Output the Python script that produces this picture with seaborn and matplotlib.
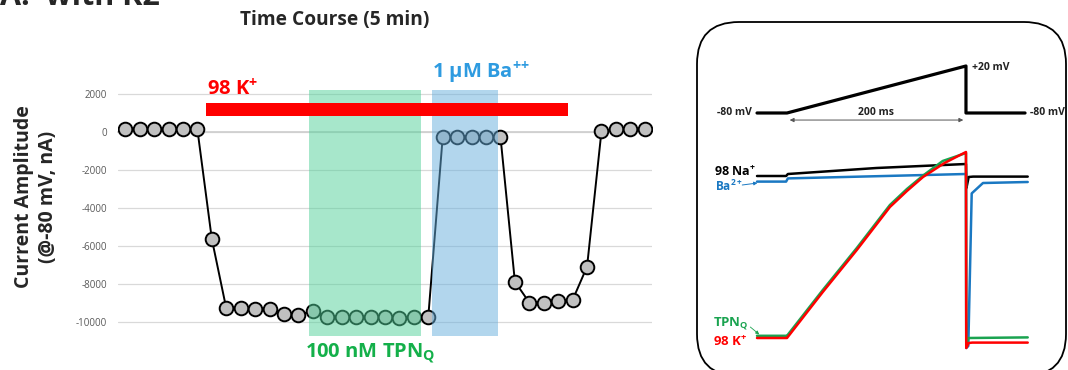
import matplotlib
matplotlib.use("Agg")
import matplotlib.pyplot as plt
import numpy as np
import pandas as pd
import seaborn as sns
from matplotlib.patches import FancyBboxPatch

# time course (one sweep every few seconds over 5 min)
SWEEP = list(range(37))
AMPLITUDE = [
    140, 140, 140, 140, 140, 140,
    -5630, -9280, -9280, -9330, -9300, -9580, -9630, -9420,
    -9750, -9750, -9750, -9750, -9750, -9800, -9720, -9720,
    -245, -245, -245, -245, -245,
    -7880, -8980, -8980, -8880, -8840, -7090,
    50, 160, 160, 160,
]
Y_TICKS = [2000, 0, -2000, -4000, -6000, -8000, -10000]

K_BAR_X = (5.6, 30.7)
K_BAR_Y = (840, 1530)
TPN_SPAN = (12.74, 20.5)
BA_SPAN = (21.24, 25.81)
SPAN_Y = (-10740, 2210)

# voltage ramp protocol
PROTOCOL_T = [-33.5, 0, 200, 200, 266]
PROTOCOL_MV = [-80, -80, 20, -80, -80]

# current traces (arbitrary units)
NA_T = [-33.5, -1, 1, 100, 200, 200.5, 203, 208, 269]
NA_I = [0.2, 0.2, 0.3, 0.6, 0.8, -0.4, 0.15, 0.17, 0.17]
BA_T = [-33.5, -1, 1, 200, 200.3, 202.6, 206.4, 219, 269]
BA_I = [-0.08, -0.08, 0.08, 0.3, -8.4, -8.3, -0.67, -0.15, -0.1]
TPN_T = [-33.5, -1, 0, 40, 78, 115, 134, 152, 174, 200, 200.3, 203, 269]
TPN_I = [-7.79, -7.79, -7.79, -5.5, -3.4, -1.25, -0.45, 0.22, 0.95, 1.35, -8.2, -7.9, -7.87]
K_T = [-33.5, -1, 0, 40, 78, 115, 134, 152, 176, 200, 200.3, 203, 207, 269]
K_I = [-7.9, -7.9, -7.9, -5.6, -3.5, -1.35, -0.55, 0.15, 0.85, 1.4, -8.4, -8.15, -8.13, -8.13]

RED = "#ff0000"
GREEN_TXT = "#14b04a"
BLUE_TXT = "#2e9be0"
TRACE_GREEN = "#1aa350"
TRACE_BLUE = "#1a78c2"


def panel_timecourse(ax: plt.Axes) -> None:
    df = pd.DataFrame({"sweep": SWEEP, "amp": AMPLITUDE})
    for y in Y_TICKS:
        ax.axhline(y, color="#d9d9d9", lw=0.9, zorder=0)
    # excel-style category ticks on the zero line
    ax.spines["bottom"].set_position(("data", 0))
    ax.spines["bottom"].set_color("#cfcfcf")
    ax.set_xticks(np.arange(0.5, 36, 1.0))
    ax.tick_params(axis="x", direction="inout", length=6, color="#cfcfcf", labelbottom=False)
    for s in ["left", "right", "top"]:
        ax.spines[s].set_visible(False)

    sns.lineplot(
        data=df, x="sweep", y="amp", ax=ax, color="black", lw=1.4,
        marker="o", markersize=9.8, markerfacecolor="#c0c0c0",
        markeredgecolor="black", markeredgewidth=1.4, zorder=3,
    )
    ax.axvspan(*TPN_SPAN, color="#51d199", alpha=0.5, lw=0, zorder=4)
    ax.axvspan(*BA_SPAN, color="#67afdd", alpha=0.5, lw=0, zorder=4)
    ax.fill_between(K_BAR_X, K_BAR_Y[0], K_BAR_Y[1], color=RED, lw=0, zorder=5)

    ax.set_xlim(-0.5, 36.5)
    ax.set_ylim(SPAN_Y[0], SPAN_Y[1])
    ax.set_yticks(Y_TICKS)
    ax.set_yticklabels([str(t) for t in Y_TICKS])
    ax.tick_params(axis="y", length=0, pad=8, labelsize=7, labelcolor="#595959")
    ax.set_xlabel("")
    ax.set_ylabel("")

    ax.text(K_BAR_X[0] + 0.1, 1680, "98 K$^{+}$", color=RED, fontsize=14.5,
            fontweight="bold", ha="left", va="bottom")
    ax.text(21.26, 2430, "1 \u03bcM Ba$^{{+}{+}}$", color=BLUE_TXT, fontsize=14.5,
            fontweight="bold", ha="left", va="bottom", clip_on=False)
    ax.text(12.46, -11050, "100 nM TPN$_{Q}$", color=GREEN_TXT, fontsize=14.5,
            fontweight="bold", ha="left", va="top", clip_on=False)


def panel_protocol(ax: plt.Axes) -> None:
    sns.lineplot(x=PROTOCOL_T, y=PROTOCOL_MV, ax=ax, color="black", lw=2.3,
                 sort=False, estimator=None)
    ax.set_xlim(-109.5, 314)
    ax.set_ylim(-626.8, 160.4)
    ax.set_axis_off()
    kw = dict(fontsize=7.5, fontweight="bold", color="#222222", va="center")
    ax.text(-39, -80, "-80 mV", ha="right", **kw)
    ax.text(206.5, 16, "+20 mV", ha="left", **kw)
    ax.text(271.5, -80, "-80 mV", ha="left", **kw)
    ax.text(100, -79, "200 ms", ha="center", **kw)
    ax.annotate("", xy=(3, -95), xytext=(197, -95),
                arrowprops=dict(arrowstyle="<|-|>", color="#555555", lw=0.7,
                                mutation_scale=6, shrinkA=0, shrinkB=0))


def panel_traces(ax: plt.Axes) -> None:
    traces = [
        (NA_T, NA_I, "black"),
        (BA_T, BA_I, TRACE_BLUE),
        (TPN_T, TPN_I, TRACE_GREEN),
        (K_T, K_I, RED),
    ]
    for t, i, c in traces:
        sns.lineplot(x=t, y=i, ax=ax, color=c, lw=1.8, sort=False, estimator=None)
    ax.set_xlim(-109.5, 314)
    ax.set_ylim(-9.5, 9)
    ax.set_axis_off()

    ax.text(-35, 0.4, "98 Na$^{+}$", ha="right", va="center", fontsize=9,
            fontweight="bold", color="black")
    ax.text(-81, -0.33, "Ba$^{2+}$", ha="left", va="center", fontsize=8.5,
            fontweight="bold", color=TRACE_BLUE)
    ax.annotate("", xy=(-33, -0.15), xytext=(-50, -0.25),
                arrowprops=dict(arrowstyle="-|>", color=TRACE_BLUE, lw=0.7,
                                mutation_scale=5, shrinkA=0, shrinkB=0))
    ax.text(-83, -7.2, "TPN$_{Q}$", ha="left", va="center", fontsize=9.5,
            fontweight="bold", color=TRACE_GREEN)
    ax.annotate("", xy=(-31, -7.72), xytext=(-41, -7.35),
                arrowprops=dict(arrowstyle="-|>", color=TRACE_GREEN, lw=0.6,
                                mutation_scale=5, shrinkA=0, shrinkB=0))
    ax.text(-83, -8.1, "98 K$^{+}$", ha="left", va="center", fontsize=9.5,
            fontweight="bold", color=RED)


def main() -> None:
    sns.set_theme(style="white")
    plt.rcParams.update(
        {
            "font.family": ["Open Sans", "DejaVu Sans"],
            "mathtext.fontset": "custom",
            "mathtext.rm": "Open Sans",
            "mathtext.bf": "Open Sans:bold",
            "mathtext.default": "bf",
            "figure.facecolor": "white",
            "axes.facecolor": "none",
        }
    )
    fig = plt.figure(figsize=(10.68, 3.70), dpi=100)

    ax_tc = fig.add_axes([118 / 1068, 34 / 370, 534 / 1068, 246 / 370])
    panel_timecourse(ax_tc)

    ax_pr = fig.add_axes([689 / 1068, 0, 379 / 1068, 1])
    panel_protocol(ax_pr)
    ax_tr = fig.add_axes([689 / 1068, 0, 379 / 1068, 1])
    panel_traces(ax_tr)

    box = FancyBboxPatch((6.97, -0.06), 3.69, 3.54,
                         boxstyle="round,pad=0,rounding_size=0.42",
                         transform=fig.dpi_scale_trans, fill=False,
                         ec="black", lw=1.3)
    fig.add_artist(box)

    fig.text(335 / 1068, 1 - 20 / 370, "Time Course (5 min)", ha="center",
             va="center", fontsize=13.8, fontweight="bold")
    fig.text(36 / 1068, 1 - 197 / 370, "Current Amplitude\n(@-80 mV, nA)",
             rotation=90, ha="center", va="center", fontsize=14,
             fontweight="bold", multialignment="center", linespacing=1.3)
    fig.text(0.0, 1 - 5 / 370, "A.  with K2", ha="left", va="baseline",
             fontsize=22, fontweight="bold")

    fig.savefig("out.png", dpi=100)
    plt.close(fig)


if __name__ == "__main__":
    main()
